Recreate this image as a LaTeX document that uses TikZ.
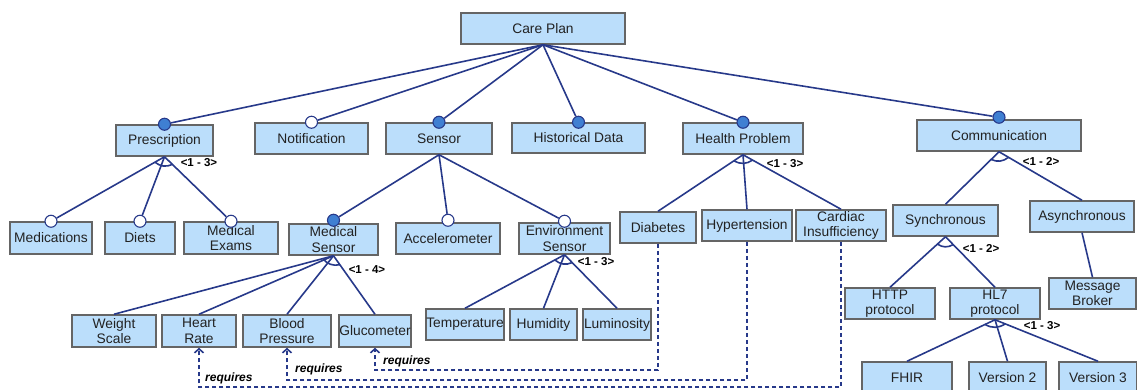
\documentclass[tikz,border=0pt]{standalone}
\usepackage{fontspec}
\setmainfont{Liberation Sans}
\usetikzlibrary{calc,arrows.meta}

\definecolor{lineblue}{HTML}{27398A}
\definecolor{boxfill}{HTML}{BBDEFB}
\definecolor{boxgray}{HTML}{656565}
\definecolor{dotblue}{HTML}{3F7FD2}
\definecolor{textdark}{HTML}{222222}

\begin{document}
\begin{tikzpicture}[x=1pt,y=-1pt,
  feat/.style={draw=boxgray, fill=boxfill, line width=1.5pt, inner sep=0pt,
    align=center, text=textdark, minimum height=31pt,
    font=\fontsize{13.8}{15.5}\selectfont},
  mand/.style={circle, draw=lineblue, fill=dotblue, line width=1.1pt,
    minimum size=12pt, inner sep=0pt},
  opt/.style={circle, draw=lineblue, fill=white, line width=1.1pt,
    minimum size=12pt, inner sep=0pt},
  edge/.style={draw=lineblue, line width=1.6pt},
  card/.style={font=\fontsize{11.5}{12}\selectfont\bfseries, text=black, inner sep=0pt},
  reqlabel/.style={font=\fontsize{12}{12}\selectfont\bfseries\itshape, text=black,
    inner sep=0pt, anchor=west},
  req/.style={draw=lineblue, line width=1.6pt, dash pattern=on 4pt off 3pt,
    -{Straight Barb[length=4pt,width=9pt]}},
]
\useasboundingbox (0,0) rectangle (1137,389);
\clip (0,0) rectangle (1137,389);

% root
\node[feat, minimum width=164pt] (care) at (543,28.5) {Care Plan};

% first level
\node[feat, minimum width=97pt]  (presc)  at (164.5,140.5) {Prescription};
\node[feat, minimum width=113pt] (notif)  at (311.5,138.5) {Notification};
\node[feat, minimum width=106pt] (sensor) at (439,138.5)   {Sensor};
\node[feat, minimum width=133pt, minimum height=30pt] (hist) at (578.5,138) {Historical Data};
\node[feat, minimum width=120pt] (health) at (743,138.5)   {Health Problem};
\node[feat, minimum width=164pt] (comm)   at (999,135.5)   {Communication};

% second level
\node[feat, minimum width=82pt, minimum height=32pt] (meds)   at (51,238)    {Medications};
\node[feat, minimum width=70pt, minimum height=32pt] (diets)  at (140,238)   {Diets};
\node[feat, minimum width=94pt, minimum height=32pt] (mexams) at (231,238)   {Medical\\Exams};
\node[feat, minimum width=89pt]  (msensor) at (333.5,239.5) {Medical\\Sensor};
\node[feat, minimum width=104pt] (accel)   at (448,238.5)   {Accelerometer};
\node[feat, minimum width=91pt]  (env)     at (564.5,238.5) {Environment\\Sensor};
\node[feat, minimum width=76pt]  (diab)    at (658,227.5)   {Diabetes};
\node[feat, minimum width=90pt]  (hyper)   at (747,225.5)   {Hypertension};
\node[feat, minimum width=90pt]  (cardiac) at (841,225.5)   {Cardiac\\Insufficiency};
\node[feat, minimum width=105pt] (sync)    at (945.5,220.5) {Synchronous};
\node[feat, minimum width=104pt] (async)   at (1082,216.5)  {Asynchronous};

% third level
\node[feat, minimum width=84pt, minimum height=32pt] (weight) at (114,331) {Weight\\Scale};
\node[feat, minimum width=74pt, minimum height=32pt] (heart)  at (199,331) {Heart\\Rate};
\node[feat, minimum width=88pt, minimum height=32pt] (blood)  at (287,331) {Blood\\Pressure};
\node[feat, minimum width=72pt, minimum height=32pt] (gluc)   at (375,331) {Glucometer};
\node[feat, minimum width=78pt] (temp)  at (465,324.5)   {Temperature};
\node[feat, minimum width=67pt] (humid) at (543.5,324.5) {Humidity};
\node[feat, minimum width=68pt] (lum)   at (617,324.5)   {Luminosity};
\node[feat, minimum width=90pt] (http)  at (890,303.5)   {HTTP\\protocol};
\node[feat, minimum width=90pt] (hl7)   at (995,303.5)   {HL7\\protocol};
\node[feat, minimum width=87pt] (broker) at (1092.5,293.5) {Message\\Broker};
\node[feat, minimum width=90pt, minimum height=32pt] (fhir) at (907,378)    {FHIR};
\node[feat, minimum width=77pt, minimum height=32pt] (v2)   at (1007.5,378) {Version 2};
\node[feat, minimum width=78pt, minimum height=32pt] (v3)   at (1098,378)   {Version 3};

% optional / mandatory markers
\node[mand] (presc-d)  at (presc.north)  {};
\node[opt]  (notif-d)  at (notif.north)  {};
\node[mand] (sensor-d) at (sensor.north) {};
\node[mand] (hist-d)   at (hist.north)   {};
\node[mand] (health-d) at (health.north) {};
\node[mand] (comm-d)   at ($(comm.north)+(0,-2)$) {};
\node[opt]  (meds-d)   at (meds.north)   {};
\node[opt]  (diets-d)  at (diets.north)  {};
\node[opt]  (mexams-d) at (mexams.north) {};
\node[mand] (msensor-d) at ($(msensor.north)+(0,-3)$) {};
\node[opt]  (accel-d)  at ($(accel.north)+(0,-2)$) {};
\node[opt]  (env-d)    at ($(env.north)+(0,-1)$) {};

% tree edges
\foreach \c in {presc-d,notif-d,sensor-d,hist-d,health-d,comm-d}
  \draw[edge] (care.south) -- (\c);
\foreach \c in {meds-d,diets-d,mexams-d}
  \draw[edge] (presc.south) -- (\c);
\foreach \c in {msensor-d,accel-d,env-d}
  \draw[edge] (sensor.south) -- (\c);
\foreach \c in {weight,heart,blood,gluc}
  \draw[edge] (msensor.south) -- (\c.north);
\foreach \c in {temp,humid,lum}
  \draw[edge] (env.south) -- (\c.north);
\foreach \c in {diab,hyper,cardiac}
  \draw[edge] (health.south) -- (\c.north);
\foreach \c in {sync,async}
  \draw[edge] (comm.south) -- (\c.north);
\foreach \c in {http,hl7}
  \draw[edge] (sync.south) -- (\c.north);
\foreach \c in {fhir,v2,v3}
  \draw[edge] (hl7.south) -- (\c.north);
\draw[edge] (async.south) -- (broker.north);

% group arcs
\draw[edge] ($(presc.south)!11pt!(meds-d)$) to[bend right=32] ($(presc.south)!11pt!(mexams-d)$);
\draw[edge] ($(msensor.south)!11pt!(weight.north)$) to[bend right=32] ($(msensor.south)!11pt!(gluc.north)$);
\draw[edge] ($(env.south)!11pt!(temp.north)$) to[bend right=32] ($(env.south)!11pt!(lum.north)$);
\draw[edge] ($(health.south)!11pt!(diab.north)$) to[bend right=32] ($(health.south)!11pt!(cardiac.north)$);
\draw[edge] ($(comm.south)!11pt!(sync.north)$) to[bend right=32] ($(comm.south)!11pt!(async.north)$);
\draw[edge] ($(sync.south)!11pt!(http.north)$) to[bend right=32] ($(sync.south)!11pt!(hl7.north)$);
\draw[edge] ($(hl7.south)!11pt!(fhir.north)$) to[bend right=32] ($(hl7.south)!11pt!(v3.north)$);

% group cardinalities
\node[card] (c1) at (199,163)  {<1 - 3>};
\node[card] (c2) at (367,270)  {<1 - 4>};
\node[card] (c3) at (596,262)  {<1 - 3>};
\node[card] (c4) at (785,164)  {<1 - 3>};
\node[card] (c5) at (1041,161) {<1 - 2>};
\node[card] (c6) at (981,248)  {<1 - 2>};
\node[card] (c7) at (1042,326) {<1 - 3>};

% requires constraints
\coordinate (y1) at (0,370);
\coordinate (y2) at (0,380);
\coordinate (y3) at (0,387);
\draw[req] (diab.south) -- (diab.south |- y1) -| (gluc.south);
\draw[req] (hyper.south) -- (hyper.south |- y2) -| (blood.south);
\draw[req] (cardiac.south) -- (cardiac.south |- y3) -| (heart.south);
\node[reqlabel] (r1) at (383,361) {requires};
\node[reqlabel] (r2) at (295,369) {requires};
\node[reqlabel] (r3) at (205,378) {requires};
\end{tikzpicture}
\end{document}
